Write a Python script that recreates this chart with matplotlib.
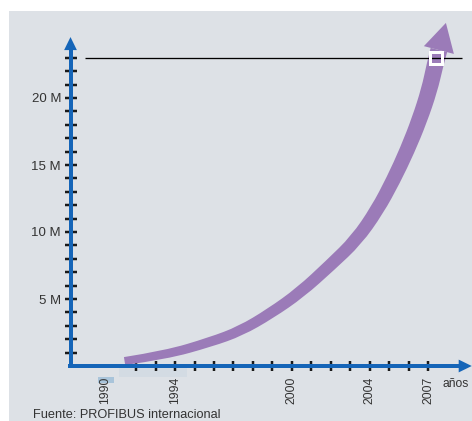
import numpy as np
import matplotlib.pyplot as plt
from matplotlib.patches import Polygon, Rectangle
from matplotlib.path import Path
from matplotlib.transforms import IdentityTransform

plt.rcParams['font.family'] = ['Liberation Sans', 'DejaVu Sans']

# Installed base (millions of devices) by year
curve_years = [1991.4, 1993.5, 1995.82, 1997.36, 1998.9, 2000.44, 2001.99, 2003.32,
               2004.39, 2005.22, 2005.94, 2006.56, 2007.07, 2007.36, 2007.56]
curve_values = [0.37, 0.82, 1.79, 2.61, 3.92, 5.49, 7.54, 9.4,
                11.64, 13.88, 16.12, 18.36, 20.6, 22.46, 23.58]
target_year = 2007.4
target_value = 23

year_ticks = list(range(1992, 2008))
year_labels = ['1990', '1994', '2000', '2004', '2007']
year_label_pos = [1990.4, 1994, 2000, 2004, 2007]
value_ticks = list(range(1, 24))
value_labels = {5: '5 M', 10: '10 M', 15: '15 M', 20: '20 M'}

bg = '#dde1e6'
blue = '#1565b8'
purple = '#9b7bb8'
px = 72 / 100  # points per pixel at 100 dpi

fig = plt.figure(figsize=(4.72, 4.21), dpi=100)
fig.add_artist(Rectangle((9 / 472, 0), 1, 410 / 421, transform=fig.transFigure,
                         facecolor=bg, edgecolor='none', zorder=-1))

ax = fig.add_axes([70.5 / 472, 55 / 421, 401.5 / 472, 351 / 421])
x0 = 1988.62
ax.set_xlim(x0, x0 + 401.5 / 19.45)
ax.set_ylim(0, 351 / 13.4)
ax.patch.set_visible(False)
for s in ['top', 'right']:
    ax.spines[s].set_visible(False)
for s in ['left', 'bottom']:
    ax.spines[s].set_color(blue)
    ax.spines[s].set_linewidth(4 * px)
    ax.spines[s].set_zorder(3)
ax.spines['left'].set_bounds(0, 23.9)
ax.spines['bottom'].set_bounds(x0, 2008.6)

# axis arrowheads
ax.annotate('', xy=(x0, 24.55), xytext=(x0, 23.5),
            arrowprops=dict(arrowstyle='-|>,head_length=0.47,head_width=0.23',
                            mutation_scale=20, color=blue, lw=0,
                            shrinkA=0, shrinkB=0), annotation_clip=False)
ax.annotate('', xy=(2009.25, 0), xytext=(2008.2, 0),
            arrowprops=dict(arrowstyle='-|>,head_length=0.47,head_width=0.23',
                            mutation_scale=20, color=blue, lw=0,
                            shrinkA=0, shrinkB=0), annotation_clip=False)

# y ticks
ax.set_yticks(value_ticks)
ax.set_yticklabels([value_labels.get(v, '') for v in value_ticks])
ax.tick_params(axis='y', direction='inout', length=12 * px, width=2.5 * px,
               color='#1a1a1a', pad=2.5, labelsize=9.5, labelcolor='#333333')

# x ticks: marks every year, labels on a few
ax.xaxis.remove_overlapping_locs = False
ax.set_xticks(year_ticks, minor=True)
ax.set_xticks(year_label_pos)
ax.set_xticklabels(year_labels, rotation=90)
ax.tick_params(axis='x', which='minor', direction='inout', length=10 * px,
               width=2.5 * px, color='#1a1a1a')
ax.tick_params(axis='x', which='major', length=0, pad=7.7, labelsize=8.7,
               labelcolor='#333333')
for t in ax.xaxis.get_ticklines(minor=True):
    t.set_zorder(4)

# shaded strips under the axis
ax.add_patch(Rectangle((1991.1, -0.85), 3.5, 0.85, facecolor='#d3dbe3',
                       edgecolor='none', clip_on=False, zorder=1))
ax.add_patch(Rectangle((1990.05, -1.3), 0.82, 0.5, facecolor='#a9c4da',
                       edgecolor='none', clip_on=False, zorder=1))

# growth arrow: band that widens along its length, drawn in pixel space
fig.canvas.draw()
pts = ax.transData.transform(np.column_stack([curve_years, curve_values]))

# smooth centreline: quadratic bezier through midpoints, flattened by matplotlib
verts = [pts[0]]
codes = [Path.MOVETO]
for i in range(1, len(pts) - 1):
    verts += [pts[i], (pts[i] + pts[i + 1]) / 2]
    codes += [Path.CURVE3, Path.CURVE3]
verts.append(pts[-1])
codes.append(Path.LINETO)
centre = Path(np.array(verts), codes).to_polygons(closed_only=False)[0]

seg = np.diff(centre, axis=0)
seglen = np.hypot(seg[:, 0], seg[:, 1])
keep = np.concatenate([[True], seglen > 1e-6])
centre = centre[keep]
seg = np.diff(centre, axis=0)
seglen = np.hypot(seg[:, 0], seg[:, 1])
dist = np.concatenate([[0], np.cumsum(seglen)])
widths = 8 + 9 * dist / dist[-1]
tang = np.zeros_like(centre)
tang[0] = seg[0] / seglen[0]
tang[-1] = seg[-1] / seglen[-1]
tang[1:-1] = seg[:-1] / seglen[:-1, None] + seg[1:] / seglen[1:, None]
tang /= np.hypot(tang[:, 0], tang[:, 1])[:, None]
norm = np.column_stack([-tang[:, 1], tang[:, 0]])
upper = centre + norm * widths[:, None] / 2
lower = centre - norm * widths[:, None] / 2
band = np.vstack([upper, lower[::-1]])
ax.add_artist(Polygon(band, closed=True, facecolor=purple, edgecolor='none',
                      transform=IdentityTransform(), zorder=2, clip_on=False))
tip_dir = tang[-1]
tip_norm = norm[-1]
base = centre[-1]
head = np.array([base + tip_norm * 15.5, base + tip_dir * 28, base - tip_norm * 15.5])
ax.add_artist(Polygon(head, closed=True, facecolor=purple, edgecolor='none',
                      transform=IdentityTransform(), zorder=2, clip_on=False))

# target line and marker
ax.hlines(target_value, 1989.39, 2008.77, color='black', lw=1.3 * px, zorder=5,
          clip_on=False)
ax.plot([target_year], [target_value], marker='s', ms=12 * px, mfc='none',
        mec='white', mew=3 * px, zorder=6, clip_on=False)

ax.text(2007.74, -1.35, 'años', fontsize=8.7, color='#333333',
        va='center', ha='left')
fig.text(33 / 472, 6 / 421, 'Fuente: PROFIBUS internacional', fontsize=9.2,
         color='#333333', va='center', ha='left')

fig.savefig('out.png', dpi=100)
